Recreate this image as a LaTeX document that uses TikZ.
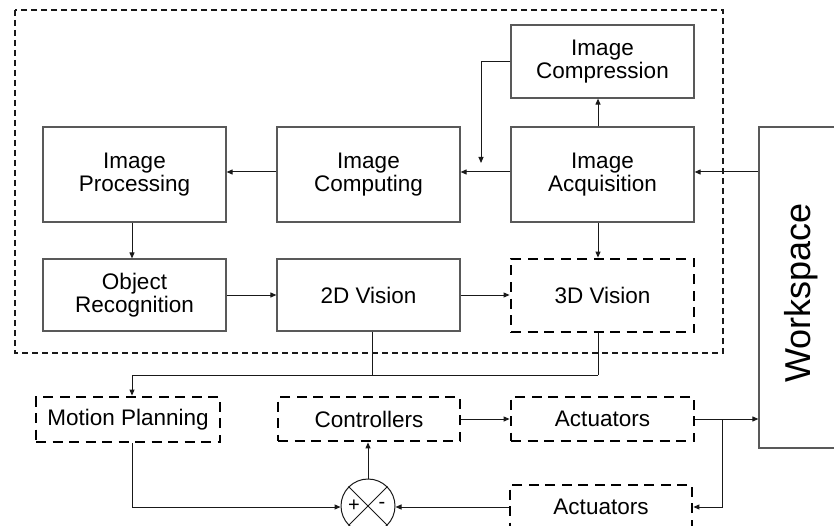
\documentclass[tikz,border=0pt]{standalone}
\usepackage{fontspec}
\setmainfont{Liberation Sans}
\usetikzlibrary{arrows.meta,calc}
\begin{document}
\begin{tikzpicture}[x=1pt,y=-1pt,
  solidbox/.style={draw=black!65, line width=1.2pt, minimum width=183pt, align=center, inner sep=0pt, font=\fontsize{22.5}{22.5}\selectfont},
  dashbox/.style={draw=black, line width=2.8pt, dash pattern=on 10pt off 6.5pt, minimum width=183pt, minimum height=44pt, align=center, inner sep=0pt, font=\fontsize{22.5}{22.5}\selectfont},
  conn/.style={draw=black!90, line width=1pt},
  arr/.style={conn, -{Triangle[length=6pt,width=5pt]}}
]
\useasboundingbox (0,0) rectangle (834,526);
% outer dashed boundary
\draw[black!90, line width=1.3pt, dash pattern=on 6pt off 4pt] (15,10) rectangle (723,353);

% nodes
\node[solidbox, minimum height=73pt] (comp) at (602.5,61.5) {Image\\Compression};
\node[solidbox, minimum height=95pt] (acq) at (602.5,174.5) {Image\\Acquisition};
\node[solidbox, minimum height=95pt] (cmpt) at (368.5,174.5) {Image\\Computing};
\node[solidbox, minimum height=95pt] (proc) at (134.5,174.5) {Image\\Processing};
\node[solidbox, minimum height=72pt] (obj) at (134.5,295) {Object\\Recognition};
\node[solidbox, minimum height=72pt] (v2d) at (368.5,295) {2D Vision};
\node[dashbox, minimum height=73pt] (v3d) at (602.5,295.5) {3D Vision};
\node[dashbox, minimum width=184pt, minimum height=45pt] (mp) at (128,419.5) {Motion Planning};
\node[dashbox, minimum width=182pt] (ctrl) at (369,419) {Controllers};
\node[dashbox] (act1) at (602.5,419) {Actuators};
\node[dashbox, minimum width=182pt] (act2) at (601,507) {Actuators};
\node[draw=black!90, line width=1pt, circle, minimum size=54pt, inner sep=0pt] (sum) at (368,506) {};
\draw[black!90, line width=0.9pt] (sum.north west) -- (sum.south east) (sum.north east) -- (sum.south west);
\node[font=\fontsize{20}{20}\selectfont, inner sep=0pt] (plus) at (354,506) {+};
\node[font=\fontsize{20}{20}\selectfont, inner sep=0pt] (minus) at (382,505) {-};
\node[draw=black!65, line width=1.2pt, minimum width=88pt, minimum height=321pt, inner sep=0pt] (ws) at (803,287.5) {};
\node[rotate=90, font=\fontsize{36}{36}\selectfont, inner sep=0pt] (wstext) at (801,293) {Workspace};

% helper coordinates
\coordinate (x598) at (598,0);
\coordinate (x132) at (132,0);
\coordinate (x372) at (372,0);
\coordinate (x481) at (481,0);
\coordinate (x722) at (722,0);
\coordinate (y172) at (0,172);
\coordinate (y62) at (0,62);
\coordinate (y163) at (0,163);
\coordinate (y375) at (0,375);
\coordinate (y419) at (0,419);
\coordinate (y507) at (0,507);
\coordinate (y295) at (0,295);

% connectors
\draw[arr] (ws.west |- y172) -- (acq.east |- y172);
\draw[arr] (acq.west |- y172) -- (cmpt.east |- y172);
\draw[arr] (cmpt.west |- y172) -- (proc.east |- y172);
\draw[arr] (acq.north -| x598) -- (comp.south -| x598);
\draw[arr] (comp.west |- y62) -| (x481 |- y163);
\draw[arr] (proc.south -| x132) -- (obj.north -| x132);
\draw[arr] (obj.east |- y295) -- (v2d.west |- y295);
\draw[arr] (v2d.east |- y295) -- (v3d.west |- y295);
\draw[arr] (acq.south -| x598) -- (v3d.north -| x598);
\draw[conn] (v2d.south -| x372) -- (x372 |- y375);
\draw[conn] (v3d.south -| x598) -- (x598 |- y375);
\draw[arr] (x598 |- y375) -| (mp.north -| x132);
\draw[arr] (mp.south -| x132) |- (sum.west |- y507);
\draw[arr] (sum.north) -- (ctrl.south -| sum.north);
\draw[arr] (ctrl.east |- y419) -- (act1.west |- y419);
\draw[arr] (act1.east |- y419) -- (ws.west |- y419);
\draw[arr] (x722 |- y419) |- (act2.east |- y507);
\draw[arr] (act2.west |- y507) -- (sum.east |- y507);
\end{tikzpicture}
\end{document}
